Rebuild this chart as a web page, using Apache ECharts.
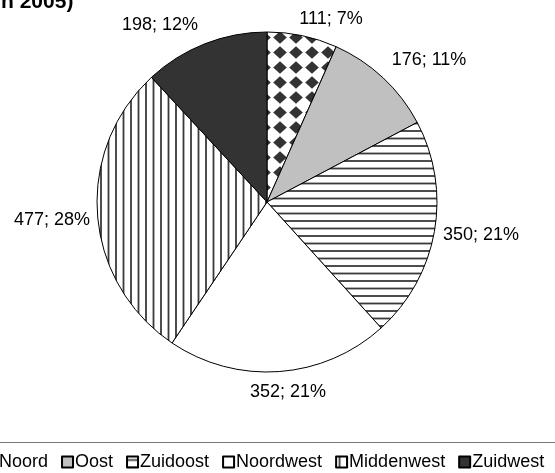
<!DOCTYPE html>
<html>
<head>
<meta charset="utf-8">
<script src="https://cdn.jsdelivr.net/npm/echarts@6/dist/echarts.min.js"></script>
<style>
html, body { margin: 0; padding: 0; background: #fff; }
#main { width: 555px; height: 473px; }
</style>
</head>
<body>
<div id="main"></div>
<script>
// regio's en aantallen
var regions = ['Noord', 'Oost', 'Zuidoost', 'Noordwest', 'Middenwest', 'Zuidwest']
var counts = [111, 176, 350, 352, 477, 198]
var pctLabels = ['7%', '11%', '21%', '21%', '28%', '12%']

// patroon tegels (zoals excel vulpatronen)
function checkerTile() {
  var c = document.createElement('canvas')
  var w = 16, h = 15
  c.width = w; c.height = h
  var ctx = c.getContext('2d')
  ctx.fillStyle = '#fff'
  ctx.fillRect(0, 0, w, h)
  ctx.fillStyle = '#333'
  ctx.beginPath()
  ctx.moveTo(w / 2, 1.2)
  ctx.lineTo(w - 1.2, h / 2)
  ctx.lineTo(w / 2, h - 1.2)
  ctx.lineTo(1.2, h / 2)
  ctx.closePath()
  ctx.fill()
  return c
}
function lineTile(vertical) {
  var c = document.createElement('canvas')
  var p = 15
  c.width = vertical ? p : 4
  c.height = vertical ? 4 : p
  var ctx = c.getContext('2d')
  ctx.fillStyle = '#fff'
  ctx.fillRect(0, 0, c.width, c.height)
  ctx.fillStyle = '#3a3a3a'
  ;[2.6, 10.1].forEach(function (o) {
    if (vertical) ctx.fillRect(o, 0, 1.8, 4)
    else ctx.fillRect(0, o, 4, 1.8)
  })
  return c
}

var fills = [
  { image: checkerTile(), repeat: 'repeat' },
  '#c0c0c0',
  { image: lineTile(false), repeat: 'repeat' },
  '#ffffff',
  { image: lineTile(true), repeat: 'repeat' },
  '#333333',
]
// plek van de labels (excel 'best passend')
var labelPos = [[331, 19], [429, 60], [481, 235], [288, 392], [52, 220], [160, 25]]

var chart = echarts.init(document.getElementById('main'))
var option = {
  animation: false,
  backgroundColor: '#fff',
  textStyle: { fontFamily: 'Liberation Sans' },
  title: {
    text: 'n 2005)',
    left: -4,
    top: -13,
    textStyle: { fontSize: 21, fontWeight: 'bold', color: '#000', fontFamily: 'Liberation Sans' },
  },
  legend: {
    data: regions,
    left: -20,
    top: 448,
    icon: 'rect',
    itemWidth: 11,
    itemHeight: 11,
    itemGap: 13,
    textStyle: { fontSize: 18, color: '#000', padding: [0, 0, 0, -3] },
  },
  graphic: [
    {
      type: 'line',
      shape: { x1: 0, y1: 442.5, x2: 555, y2: 442.5 },
      style: { stroke: '#777', lineWidth: 1.2 },
    },
  ],
  series: [
    {
      type: 'pie',
      center: [267, 202],
      radius: 170,
      startAngle: 90,
      clockwise: true,
      data: regions.map(function (r, i) {
        return { name: r, value: counts[i], itemStyle: { color: fills[i] } }
      }),
      itemStyle: { borderColor: '#000', borderWidth: 1 },
      label: {
        show: true,
        position: 'outside',
        fontSize: 18,
        color: '#000',
        overflow: 'none',
        fontFamily: 'Liberation Sans',
        formatter: function (p) {
          return p.value + '; ' + pctLabels[p.dataIndex]
        },
      },
      labelLine: { show: false },
      labelLayout: function (params) {
        var p = labelPos[params.dataIndex]
        return { x: p[0], y: p[1], align: 'center', verticalAlign: 'middle', width: 120 }
      },
      emphasis: { disabled: true },
    },
  ],
}
chart.setOption(option)
</script>
</body>
</html>
